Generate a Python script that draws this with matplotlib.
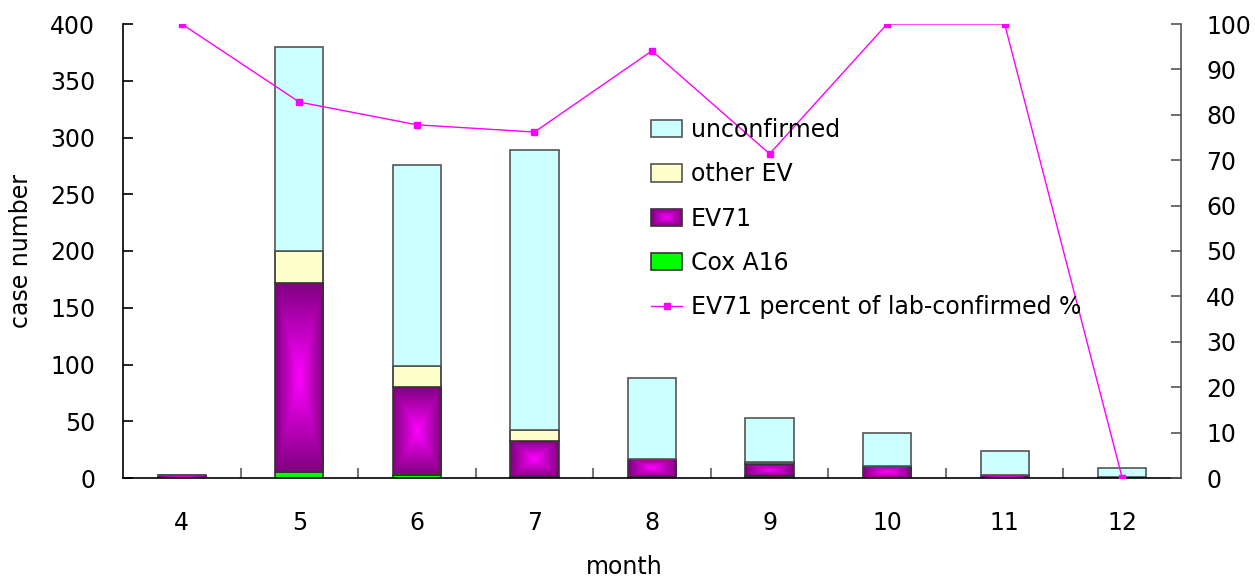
import numpy as np
import matplotlib
matplotlib.use("Agg")
import matplotlib.pyplot as plt
from matplotlib.patches import Rectangle, Patch
from matplotlib.lines import Line2D
from matplotlib.legend_handler import HandlerBase
from matplotlib.colors import LinearSegmentedColormap

plt.rcParams['font.family'] = ['DejaVu Sans']

months = ['4', '5', '6', '7', '8', '9', '10', '11', '12']
cox_a16 = [0, 5, 3, 1, 1, 2, 0, 0, 0]
ev71 = [3, 167, 77, 32, 16, 10, 11, 3, 0]
other_ev = [0, 28, 19, 9, 0, 2, 0, 0, 1]
unconfirmed = [0, 180, 177, 247, 71, 39, 29, 21, 8]
ev71_percent = [100, 82.8, 77.8, 76.2, 94.1, 71.4, 100, 100, 0]

C_UNC = '#CCFFFF'
C_OTH = '#FFFFCC'
C_COX = '#00FF00'
C_EV_DARK = '#800080'
C_EV_LIGHT = '#FF00FF'
EDGE = '#333333'
LINE_C = '#FF00FF'
FS = 17

grad_cmap = LinearSegmentedColormap.from_list('ev', [C_EV_LIGHT, C_EV_DARK])

fig = plt.figure(figsize=(12.55, 5.8), dpi=100)
ax = fig.add_axes([123/1255, 1-478/580, (1181-123)/1255, (478-24)/580])

x = np.arange(len(months))
w = 0.41
b1 = np.array(cox_a16, float)
b2 = b1 + np.array(ev71)
b3 = b2 + np.array(other_ev)

ax.bar(x, cox_a16, w, color=C_COX, edgecolor=EDGE, linewidth=1.2, zorder=2)
ev_bars = ax.bar(x, ev71, w, bottom=b1, facecolor='none', edgecolor=EDGE, linewidth=1.2, zorder=2)
ax.bar(x, other_ev, w, bottom=b2, color=C_OTH, edgecolor=EDGE, linewidth=1.2, zorder=2)
ax.bar(x, unconfirmed, w, bottom=b3, color=C_UNC, edgecolor='#555555', linewidth=1.2, zorder=2)

# rectangular gradient fill for EV71
n = 101
u = np.linspace(-1, 1, n)
U, V = np.meshgrid(u, u)
for p in ev_bars.patches:
    if p.get_height() <= 0:
        continue
    bx, by = p.get_x(), p.get_y()
    bw, bh = p.get_width(), p.get_height()
    G = np.maximum(np.abs(U), np.abs(V))
    im = ax.imshow(G, cmap=grad_cmap, vmin=0, vmax=1, extent=(bx, bx + bw, by, by + bh),
                   aspect='auto', origin='lower', zorder=1.9, interpolation='bilinear')
    im.set_clip_path(p)

ax.set_xlim(-0.5, len(months) - 0.5)
ax.set_ylim(0, 400)
ax.set_yticks(np.arange(0, 401, 50))
ax.set_xticks(x)
ax.set_xticklabels(months)
ax.set_xticks(np.arange(0.5, len(months) - 0.5, 1), minor=True)
ax.tick_params(axis='x', which='major', length=0, pad=24, labelsize=FS)
ax.tick_params(axis='x', which='minor', direction='in', length=7, color='#777777', width=1.5)
ax.tick_params(axis='y', direction='in', length=7, width=1.2, pad=20, labelsize=FS)
ax.spines['top'].set_visible(False)
ax.spines['right'].set_visible(False)
for s in ('left', 'bottom'):
    ax.spines[s].set_linewidth(1.2)
ax.set_ylabel('case number', fontsize=FS, labelpad=12)
fig.text(624/1255, 0.5/580, 'month', fontsize=FS, ha='center', va='bottom')

ax2 = ax.twinx()
ax2.plot(x, ev71_percent, color=LINE_C, linewidth=1.0, marker='s', markersize=4,
         markerfacecolor=LINE_C, markeredgecolor=LINE_C)
ax2.set_ylim(0, 100)
ax2.set_yticks(np.arange(0, 101, 10))
ax2.tick_params(axis='y', direction='in', length=7, width=1.2, color='#555555', pad=18, labelsize=FS)
ax2.spines['top'].set_visible(False)
ax2.spines['left'].set_visible(False)
ax2.spines['bottom'].set_visible(False)
ax2.spines['right'].set_linewidth(1.2)
ax2.spines['right'].set_color('#555555')


class HandlerGradient(HandlerBase):
    def create_artists(self, legend, orig_handle, xdescent, ydescent, width, height, fontsize, trans):
        arts = []
        steps = 12
        for i in range(steps):
            f = i / steps
            c = grad_cmap(1 - f)
            dx = width * f / 2
            dy = height * f / 2
            r = Rectangle((-xdescent + dx, -ydescent + dy), width - 2 * dx, height - 2 * dy,
                          facecolor=c, edgecolor=EDGE if i == 0 else 'none',
                          linewidth=1.2 if i == 0 else 0, transform=trans)
            arts.append(r)
        return arts


class GradHandle:
    pass


handles = [
    Patch(facecolor=C_UNC, edgecolor='#555555', linewidth=1.2),
    Patch(facecolor=C_OTH, edgecolor='#555555', linewidth=1.2),
    GradHandle(),
    Patch(facecolor=C_COX, edgecolor=EDGE, linewidth=1.2),
    Line2D([], [], color=LINE_C, linewidth=1.0, marker='s', markersize=4),
]
labels = ['unconfirmed', 'other EV', 'EV71', 'Cox A16', 'EV71 percent of lab-confirmed %']
leg = ax2.legend(handles, labels, handler_map={GradHandle: HandlerGradient()},
                 loc='upper left', bbox_to_anchor=(651/1255, 1-118/580),
                 bbox_transform=fig.transFigure, frameon=False, fontsize=FS,
                 labelspacing=0.86, handlelength=1.32, handleheight=0.75, handletextpad=0.36,
                 borderpad=0, borderaxespad=0)

fig.savefig('out.png', dpi=100)
